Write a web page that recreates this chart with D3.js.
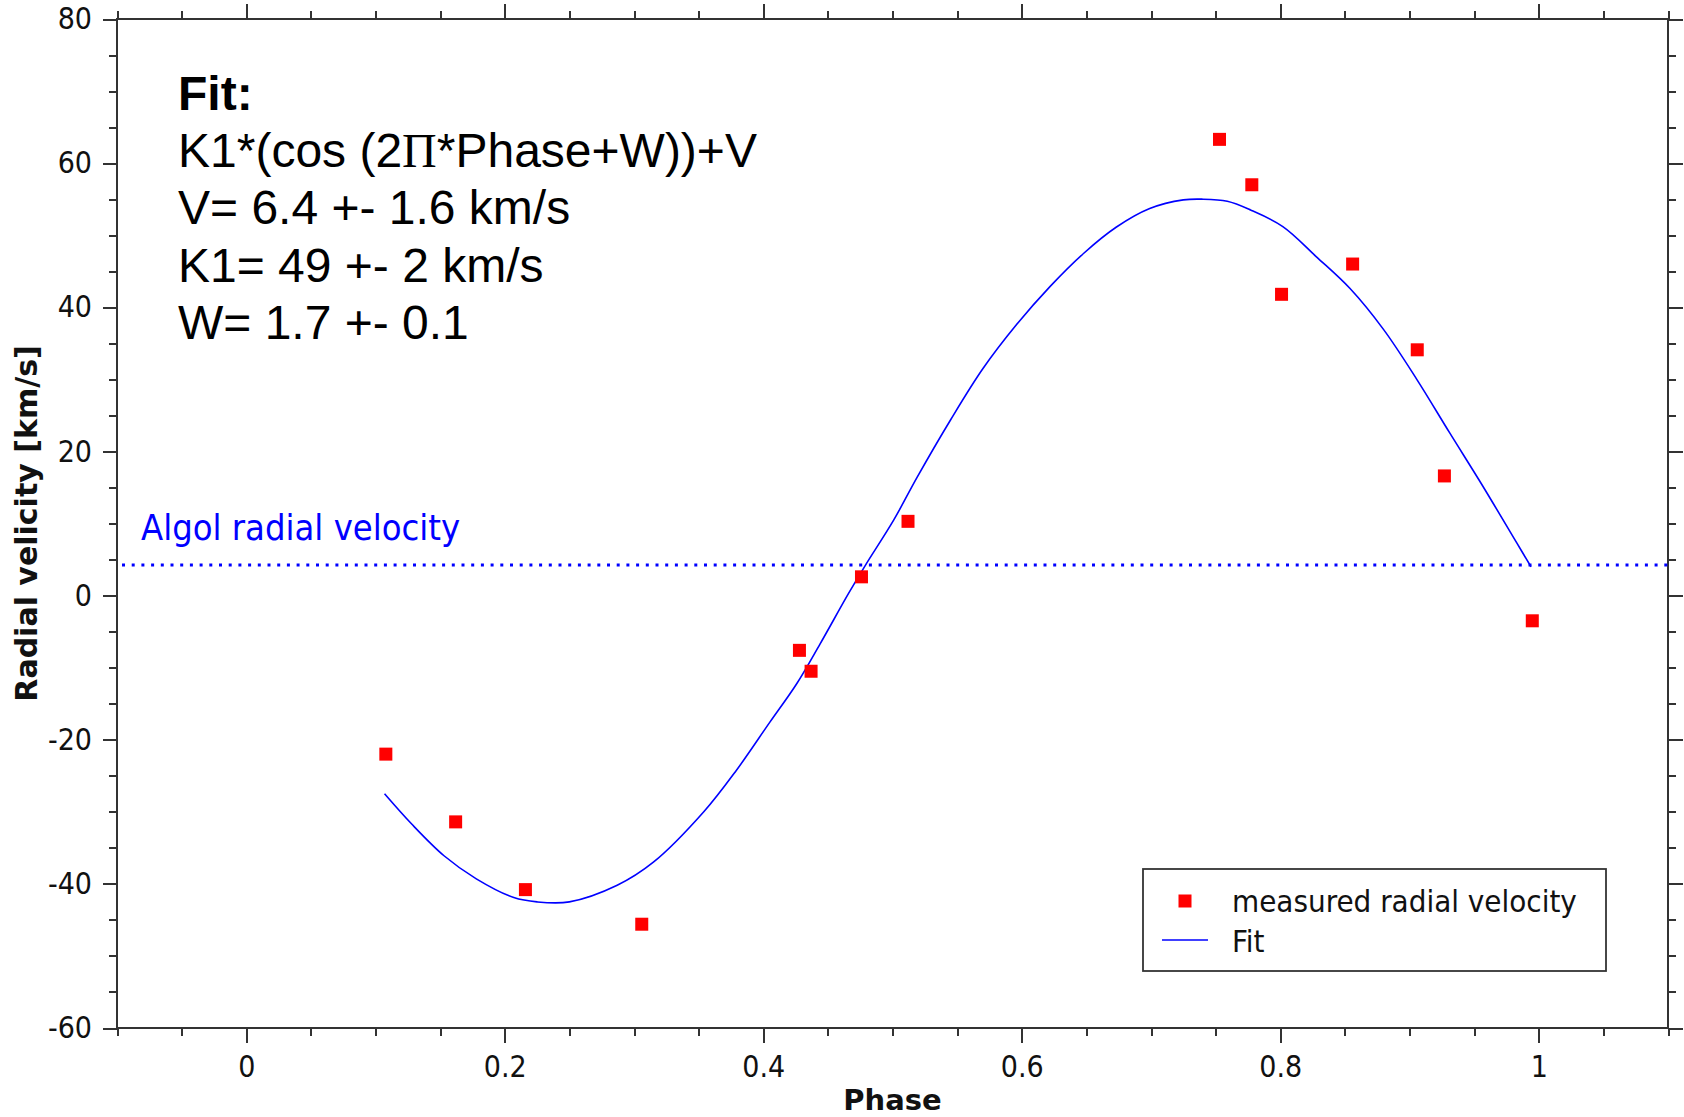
<!DOCTYPE html>
<html>
<head>
<meta charset="utf-8">
<script src="https://cdn.jsdelivr.net/npm/d3@7"></script>
<style>
  body { margin: 0; background: white; }
  svg { display: block; }
</style>
</head>
<body>
<svg width="1684" height="1117"></svg>
<script>
// measured points (phase, radial velocity km/s)
const phase = [0.108, 0.162, 0.216, 0.306, 0.428, 0.437, 0.476, 0.512, 0.753, 0.778, 0.801, 0.856, 0.906, 0.927, 0.995];
const rv = [-22.0, -31.4, -40.8, -45.6, -7.6, -10.5, 2.6, 10.3, 63.3, 57.0, 41.8, 46.0, 34.1, 16.6, -3.5];

// fit curve
const fitPhase = [0.107, 0.128, 0.153, 0.178, 0.207, 0.225, 0.250, 0.287, 0.315, 0.354, 0.379, 0.405, 0.426, 0.444, 0.466, 0.479,
  0.501, 0.519, 0.545, 0.570, 0.596, 0.622, 0.648, 0.673, 0.699, 0.725, 0.740, 0.759, 0.777, 0.802, 0.828, 0.854, 0.880,
  0.906, 0.931, 0.957, 0.983, 0.994];
const fitRv = [-27.5, -31.7, -36.1, -39.3, -41.9, -42.5, -42.5, -40.2, -37.0, -30.0, -24.3, -17.6, -12.2, -6.7, 0.3, 4.2,
  10.5, 16.4, 24.4, 31.5, 37.6, 42.9, 47.5, 51.1, 53.7, 54.9, 55.0, 54.7, 53.5, 51.2, 47.0, 42.6, 36.9,
  29.9, 22.6, 15.1, 7.3, 4.0];

const algolRv = 4.25;

// ticks
const xMajor = [0, 0.2, 0.4, 0.6, 0.8, 1];
const xMinor = d3.range(-0.1, 1.1001, 0.05);
const yMajor = [-60, -40, -20, 0, 20, 40, 60, 80];
const yMinor = d3.range(-60, 80.001, 5);

const fitLines = ["V= 6.4 +- 1.6 km/s", "K1= 49 +- 2 km/s", "W= 1.7 +- 0.1"];

const plotL = 117, plotR = 1668, plotT = 19, plotB = 1028;
const tickFont = "'DejaVu Sans Condensed', 'DejaVu Sans', sans-serif";
const arial = "'Liberation Sans', Arial, sans-serif";

const x = d3.scaleLinear().domain([-0.1, 1.1]).range([plotL, plotR]);
const y = d3.scaleLinear().domain([-60, 80]).range([plotB, plotT]);

const svg = d3.select("svg");

//1. axes, major ticks with labels + minor ticks
function styleAxis(g) {
  g.select(".domain").remove();
  g.selectAll("line").attr("stroke", "#333").attr("stroke-width", 2).attr("shape-rendering", "crispEdges");
  g.selectAll("text").attr("fill", "#111").style("font-family", tickFont).style("font-stretch", "condensed").style("font-size", "30px");
}
const fmt = d => String(+d.toFixed(2)); // plain hyphen minus like the original

svg.append("g").attr("transform", `translate(0,${plotB})`)
  .call(d3.axisBottom(x).tickValues(xMajor).tickSize(15).tickPadding(13).tickFormat(fmt)).call(styleAxis);
svg.append("g").attr("transform", `translate(0,${plotB})`)
  .call(d3.axisBottom(x).tickValues(xMinor).tickSize(8).tickFormat("")).call(styleAxis);
svg.append("g").attr("transform", `translate(0,${plotT})`)
  .call(d3.axisTop(x).tickValues(xMajor).tickSize(15).tickFormat("")).call(styleAxis);
svg.append("g").attr("transform", `translate(0,${plotT})`)
  .call(d3.axisTop(x).tickValues(xMinor).tickSize(8).tickFormat("")).call(styleAxis);

svg.append("g").attr("transform", `translate(${plotL},0)`)
  .call(d3.axisLeft(y).tickValues(yMajor).tickSize(14).tickPadding(11).tickFormat(fmt)).call(styleAxis);
svg.append("g").attr("transform", `translate(${plotL},0)`)
  .call(d3.axisLeft(y).tickValues(yMinor).tickSize(8).tickFormat("")).call(styleAxis);
svg.append("g").attr("transform", `translate(${plotR},0)`)
  .call(d3.axisRight(y).tickValues(yMajor).tickSize(15).tickFormat("")).call(styleAxis);
svg.append("g").attr("transform", `translate(${plotR},0)`)
  .call(d3.axisRight(y).tickValues(yMinor).tickSize(8).tickFormat("")).call(styleAxis);

// frame
svg.append("rect")
  .attr("x", plotL).attr("y", plotT)
  .attr("width", plotR - plotL).attr("height", plotB - plotT)
  .attr("fill", "none").attr("stroke", "#333").attr("stroke-width", 2)
  .attr("shape-rendering", "crispEdges");

//2. axis titles
svg.append("text")
  .attr("x", (x(-0.1) + x(1.1)) / 2).attr("y", 1110)
  .attr("text-anchor", "middle")
  .style("font-family", "'DejaVu Sans', sans-serif").style("font-weight", "bold").style("font-size", "29px")
  .attr("fill", "#111")
  .text("Phase");

svg.append("text")
  .attr("transform", `translate(37,${(y(-60) + y(80)) / 2}) rotate(-90)`)
  .attr("text-anchor", "middle")
  .style("font-family", "'DejaVu Sans', sans-serif").style("font-weight", "bold").style("font-size", "30px")
  .attr("fill", "#111")
  .text("Radial velicity [km/s]");

//3. Algol line + label
svg.append("line")
  .attr("x1", plotL + 5).attr("x2", plotR)
  .attr("y1", y(algolRv)).attr("y2", y(algolRv))
  .attr("stroke", "blue").attr("stroke-width", 3)
  .attr("stroke-dasharray", "3,6.7");

svg.append("text")
  .attr("x", 141).attr("y", 540)
  .style("font-family", tickFont).style("font-stretch", "condensed").style("font-size", "36px")
  .attr("fill", "blue")
  .text("Algol radial velocity");

//4. fit curve
const line = d3.line()
  .x((d, i) => x(fitPhase[i]))
  .y(d => y(d))
  .curve(d3.curveCatmullRom);

svg.append("path")
  .attr("d", line(fitRv))
  .attr("fill", "none")
  .attr("stroke", "blue")
  .attr("stroke-width", 1.6);

//5. measured points
svg.append("g").selectAll("rect")
  .data(rv)
  .join("rect")
  .attr("x", (d, i) => x(phase[i]) - 6.5)
  .attr("y", d => y(d) - 6.5)
  .attr("width", 13).attr("height", 13)
  .attr("fill", "red");

//6. fit text block
svg.append("text")
  .attr("x", 178).attr("y", 110)
  .style("font-family", arial).style("font-weight", "bold").style("font-size", "48px")
  .attr("fill", "black")
  .text("Fit:");

// formula line, the Pi is a serif glyph in the original
const formula = svg.append("text")
  .attr("x", 178).attr("y", 167)
  .style("font-family", arial).style("font-size", "48px")
  .attr("fill", "black");
formula.append("tspan").text("K1*(cos (2");
formula.append("tspan").style("font-family", "'Liberation Serif', 'DejaVu Serif', serif").text("\u03A0");
formula.append("tspan").text("*Phase+W))+V");

svg.append("g").selectAll("text")
  .data(fitLines)
  .join("text")
  .attr("x", 178)
  .attr("y", (d, i) => 224.3 + i * 57.3)
  .style("font-family", arial).style("font-size", "48px")
  .attr("fill", "black")
  .text(d => d);

//7. legend
const legend = svg.append("g");
legend.append("rect")
  .attr("x", 1143).attr("y", 869)
  .attr("width", 463).attr("height", 102)
  .attr("fill", "white").attr("stroke", "#333").attr("stroke-width", 1.8);
legend.append("rect")
  .attr("x", 1185 - 6.5).attr("y", 901 - 6.5)
  .attr("width", 13).attr("height", 13)
  .attr("fill", "red");
legend.append("line")
  .attr("x1", 1162).attr("x2", 1208)
  .attr("y1", 940).attr("y2", 940)
  .attr("stroke", "blue").attr("stroke-width", 1.6);
legend.selectAll("text.lab")
  .data(["measured radial velocity", "Fit"])
  .join("text")
  .attr("class", "lab")
  .attr("x", 1232)
  .attr("y", (d, i) => 912 + i * 40)
  .style("font-family", tickFont).style("font-stretch", "condensed").style("font-size", "31px")
  .attr("fill", "#111")
  .text(d => d);
</script>
</body>
</html>
